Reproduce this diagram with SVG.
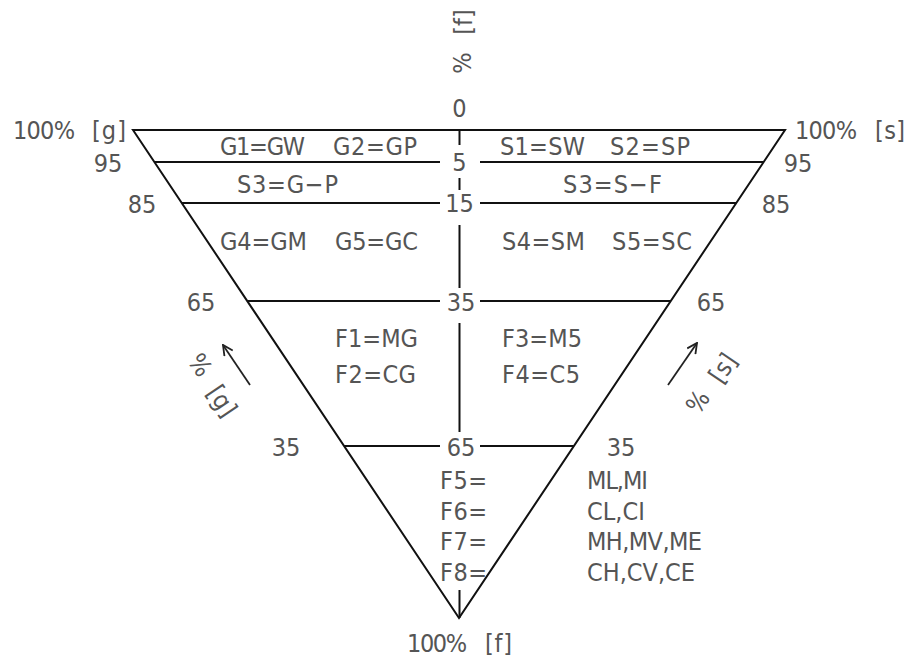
<svg xmlns="http://www.w3.org/2000/svg" width="913" height="666" viewBox="0 0 913 666">
<style>
.t{font-family:"Liberation Sans Narrow","DejaVu Sans Condensed","Liberation Sans",sans-serif;font-size:25px;fill:#555}
.m{text-anchor:middle}
.ln{stroke:#111;stroke-width:2;fill:none}
.ar{stroke:#222;stroke-width:1.8;fill:none}
</style>
<defs>
<marker id="oa" viewBox="0 0 12 12" refX="11" refY="6" markerWidth="12" markerHeight="12" markerUnits="userSpaceOnUse" orient="auto">
<path d="M1,1 L11,6 L1,11" stroke="#222" stroke-width="1.8" fill="none"/>
</marker>
</defs>
<g id="connectors">
<path class="ln" d="M133,130 L459,618 L785,130 Z"/>
<path class="ln" d="M154.4,162 H440 M480,162 H763.6"/>
<path class="ln" d="M181.8,203 H440 M480,203 H736.2"/>
<path class="ln" d="M247.2,301 H440 M480,301 H670.8"/>
<path class="ln" d="M344.1,446 H440 M480,446 H573.9"/>
<path class="ln" d="M459.5,130 V145 M459.5,178 V190 M459.5,225 V288 M459.5,323 V432 M459.5,590 V618"/>
<path class="ar" d="M250,385 L223,345" marker-end="url(#oa)"/>
<path class="ar" d="M668,385 L697,343" marker-end="url(#oa)"/>
</g>
<g id="top-labels">
<text class="t m" x="459.5" y="117">0</text>
<text class="t" x="13" y="139" textLength="62">100%</text>
<text class="t" x="92" y="139" textLength="34">[g]</text>
<text class="t" x="795" y="139" textLength="62">100%</text>
<text class="t" x="875" y="139" textLength="30">[s]</text>
<text class="t m" transform="translate(462,63) rotate(-90)" dominant-baseline="central">%</text>
<text class="t m" transform="translate(463,22) rotate(-90)" dominant-baseline="central">[f]</text>
</g>
<g id="scale-labels">
<text class="t m" x="108" y="172">95</text>
<text class="t m" x="142" y="213">85</text>
<text class="t m" x="201" y="311">65</text>
<text class="t m" x="286" y="456">35</text>
<text class="t m" x="798" y="172">95</text>
<text class="t m" x="776" y="213">85</text>
<text class="t m" x="711" y="311">65</text>
<text class="t m" x="621" y="456">35</text>
<text class="t m" x="459.5" y="171">5</text>
<text class="t m" x="459.5" y="212">15</text>
<text class="t m" x="461" y="311">35</text>
<text class="t m" x="461" y="456">65</text>
</g>
<g id="zone-gravel">
<text class="t" x="220" y="155" textLength="85">G1=GW</text>
<text class="t" x="333" y="155" textLength="84">G2=GP</text>
<text class="t" x="237" y="193" textLength="101">S3=G−P</text>
<text class="t" x="220" y="250" textLength="87">G4=GM</text>
<text class="t" x="335" y="250" textLength="83">G5=GC</text>
</g>
<g id="zone-sand">
<text class="t" x="500" y="155" textLength="85">S1=SW</text>
<text class="t" x="610" y="155" textLength="80">S2=SP</text>
<text class="t" x="563" y="193" textLength="99">S3=S−F</text>
<text class="t" x="502" y="250" textLength="83">S4=SM</text>
<text class="t" x="612" y="250" textLength="80">S5=SC</text>
</g>
<g id="zone-fines">
<text class="t" x="335" y="347" textLength="83">F1=MG</text>
<text class="t" x="335" y="383" textLength="81">F2=CG</text>
<text class="t" x="502" y="347" textLength="80">F3=M5</text>
<text class="t" x="502" y="383" textLength="78">F4=C5</text>
<text class="t" x="440" y="489" textLength="47">F5=</text>
<text class="t" x="440" y="520" textLength="47">F6=</text>
<text class="t" x="440" y="550" textLength="47">F7=</text>
<text class="t" x="440" y="581" textLength="47">F8=</text>
<text class="t" x="587" y="489" textLength="61">ML,MI</text>
<text class="t" x="587" y="520" textLength="58">CL,CI</text>
<text class="t" x="587" y="550" textLength="115">MH,MV,ME</text>
<text class="t" x="587" y="581" textLength="108">CH,CV,CE</text>
</g>
<g id="axis-labels">
<text class="t m" transform="translate(200,365) rotate(56)" dominant-baseline="central">%</text>
<text class="t m" transform="translate(222,401) rotate(56)" dominant-baseline="central">[g]</text>
<text class="t m" transform="translate(698,402) rotate(-56)" dominant-baseline="central">%</text>
<text class="t m" transform="translate(723,368) rotate(-56)" dominant-baseline="central">[s]</text>
<text class="t" x="407" y="652" textLength="60">100%</text>
<text class="t" x="485" y="652" textLength="27">[f]</text>
</g>
</svg>
